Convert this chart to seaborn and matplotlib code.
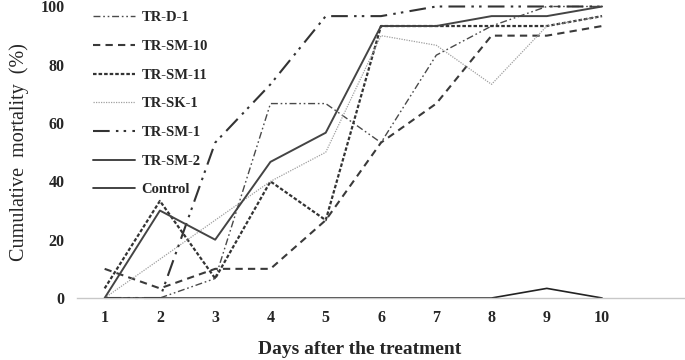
import matplotlib
matplotlib.use("Agg")
import matplotlib.pyplot as plt
import seaborn as sns
import pandas as pd

days = [1, 2, 3, 4, 5, 6, 7, 8, 9, 10]
tr_d_1 = [0, 0, 6.7, 66.7, 66.7, 53.3, 83.3, 93.3, 100, 100]
tr_sm_10 = [10, 3.3, 10, 10, 26.7, 53.3, 66.7, 90, 90, 93.3]
tr_sm_11 = [3.3, 33.3, 6.7, 40, 26.7, 93.3, 93.3, 93.3, 93.3, 96.7]
tr_sk_1 = [0, 13.3, 26.7, 40, 50, 90, 86.7, 73.3, 93.3, 96.7]
tr_sm_1 = [0, 0, 53.3, 73.3, 96.7, 96.7, 100, 100, 100, 100]
tr_sm_2 = [0, 30, 20, 46.7, 56.7, 93.3, 93.3, 96.7, 96.7, 100]
control = [0, 0, 0, 0, 0, 0, 0, 0, 3.3, 0]

series_names = ["TR-D-1", "TR-SM-10", "TR-SM-11", "TR-SK-1", "TR-SM-1", "TR-SM-2", "Control"]
series_values = [tr_d_1, tr_sm_10, tr_sm_11, tr_sk_1, tr_sm_1, tr_sm_2, control]
y_ticks = [0, 20, 40, 60, 80, 100]

styles = {
    "TR-D-1": dict(color="#4a4a4a", lw=1.0, ls=(0, (5, 2, 1.2, 2, 1.2, 2))),
    "TR-SM-10": dict(color="#3a3a3a", lw=1.5, ls=(0, (3.5, 2.5))),
    "TR-SM-11": dict(color="#333333", lw=1.6, ls=(0, (1.6, 0.9))),
    "TR-SK-1": dict(color="#a0a0a0", lw=0.9, ls=(0, (1, 1))),
    "TR-SM-1": dict(color="#333333", lw=1.5, ls=(0, (8, 3, 1.2, 2.5, 1.2, 3))),
    "TR-SM-2": dict(color="#444444", lw=1.4, ls="-"),
    "Control": dict(color="#222222", lw=1.2, ls="-"),
}

sns.set_style("white")
plt.rcParams["font.family"] = ["Liberation Serif", "DejaVu Serif"]

fig = plt.figure(figsize=(6.85, 3.6), dpi=100)
ax = fig.add_axes([77 / 685, 62 / 360, 1 - 77 / 685, (298 - 6.5) / 360])

for name, vals in zip(series_names, series_values):
    df = pd.DataFrame({"day": days, "value": vals})
    st = styles[name]
    sns.lineplot(data=df, x="day", y="value", ax=ax, color=st["color"],
                 linewidth=st["lw"], linestyle=st["ls"], label=name,
                 clip_on=False)

ax.set_xlim(0.5, 11.5)
ax.set_ylim(0, 100)
ax.set_xticks(days)
ax.set_yticks(y_ticks)
ax.tick_params(axis="both", length=0, labelsize=11.5)
ax.tick_params(axis="y", pad=9)
ax.tick_params(axis="x", pad=9)
for lab in ax.get_xticklabels() + ax.get_yticklabels():
    lab.set_fontweight("bold")

for s in ["top", "right", "left"]:
    ax.spines[s].set_visible(False)
ax.spines["bottom"].set_color("#c8c8c8")
ax.spines["bottom"].set_linewidth(1.0)

ax.set_xlabel("Days after the treatment", fontsize=14, fontweight="bold")
ax.xaxis.set_label_coords((360 - 77) / 608, -43 / 291.5)
ax.set_ylabel("Cumulative  mortality  (%)", fontsize=14.5, labelpad=8)

leg = ax.legend(loc="upper left", bbox_to_anchor=(80 / 685, 1 + 2 / 360),
                bbox_transform=fig.transFigure, frameon=False,
                handlelength=2.9, labelspacing=1.06, handletextpad=0.4,
                prop={"family": "Liberation Serif", "weight": "bold", "size": 10.5})

fig.savefig("out.png", dpi=100)
